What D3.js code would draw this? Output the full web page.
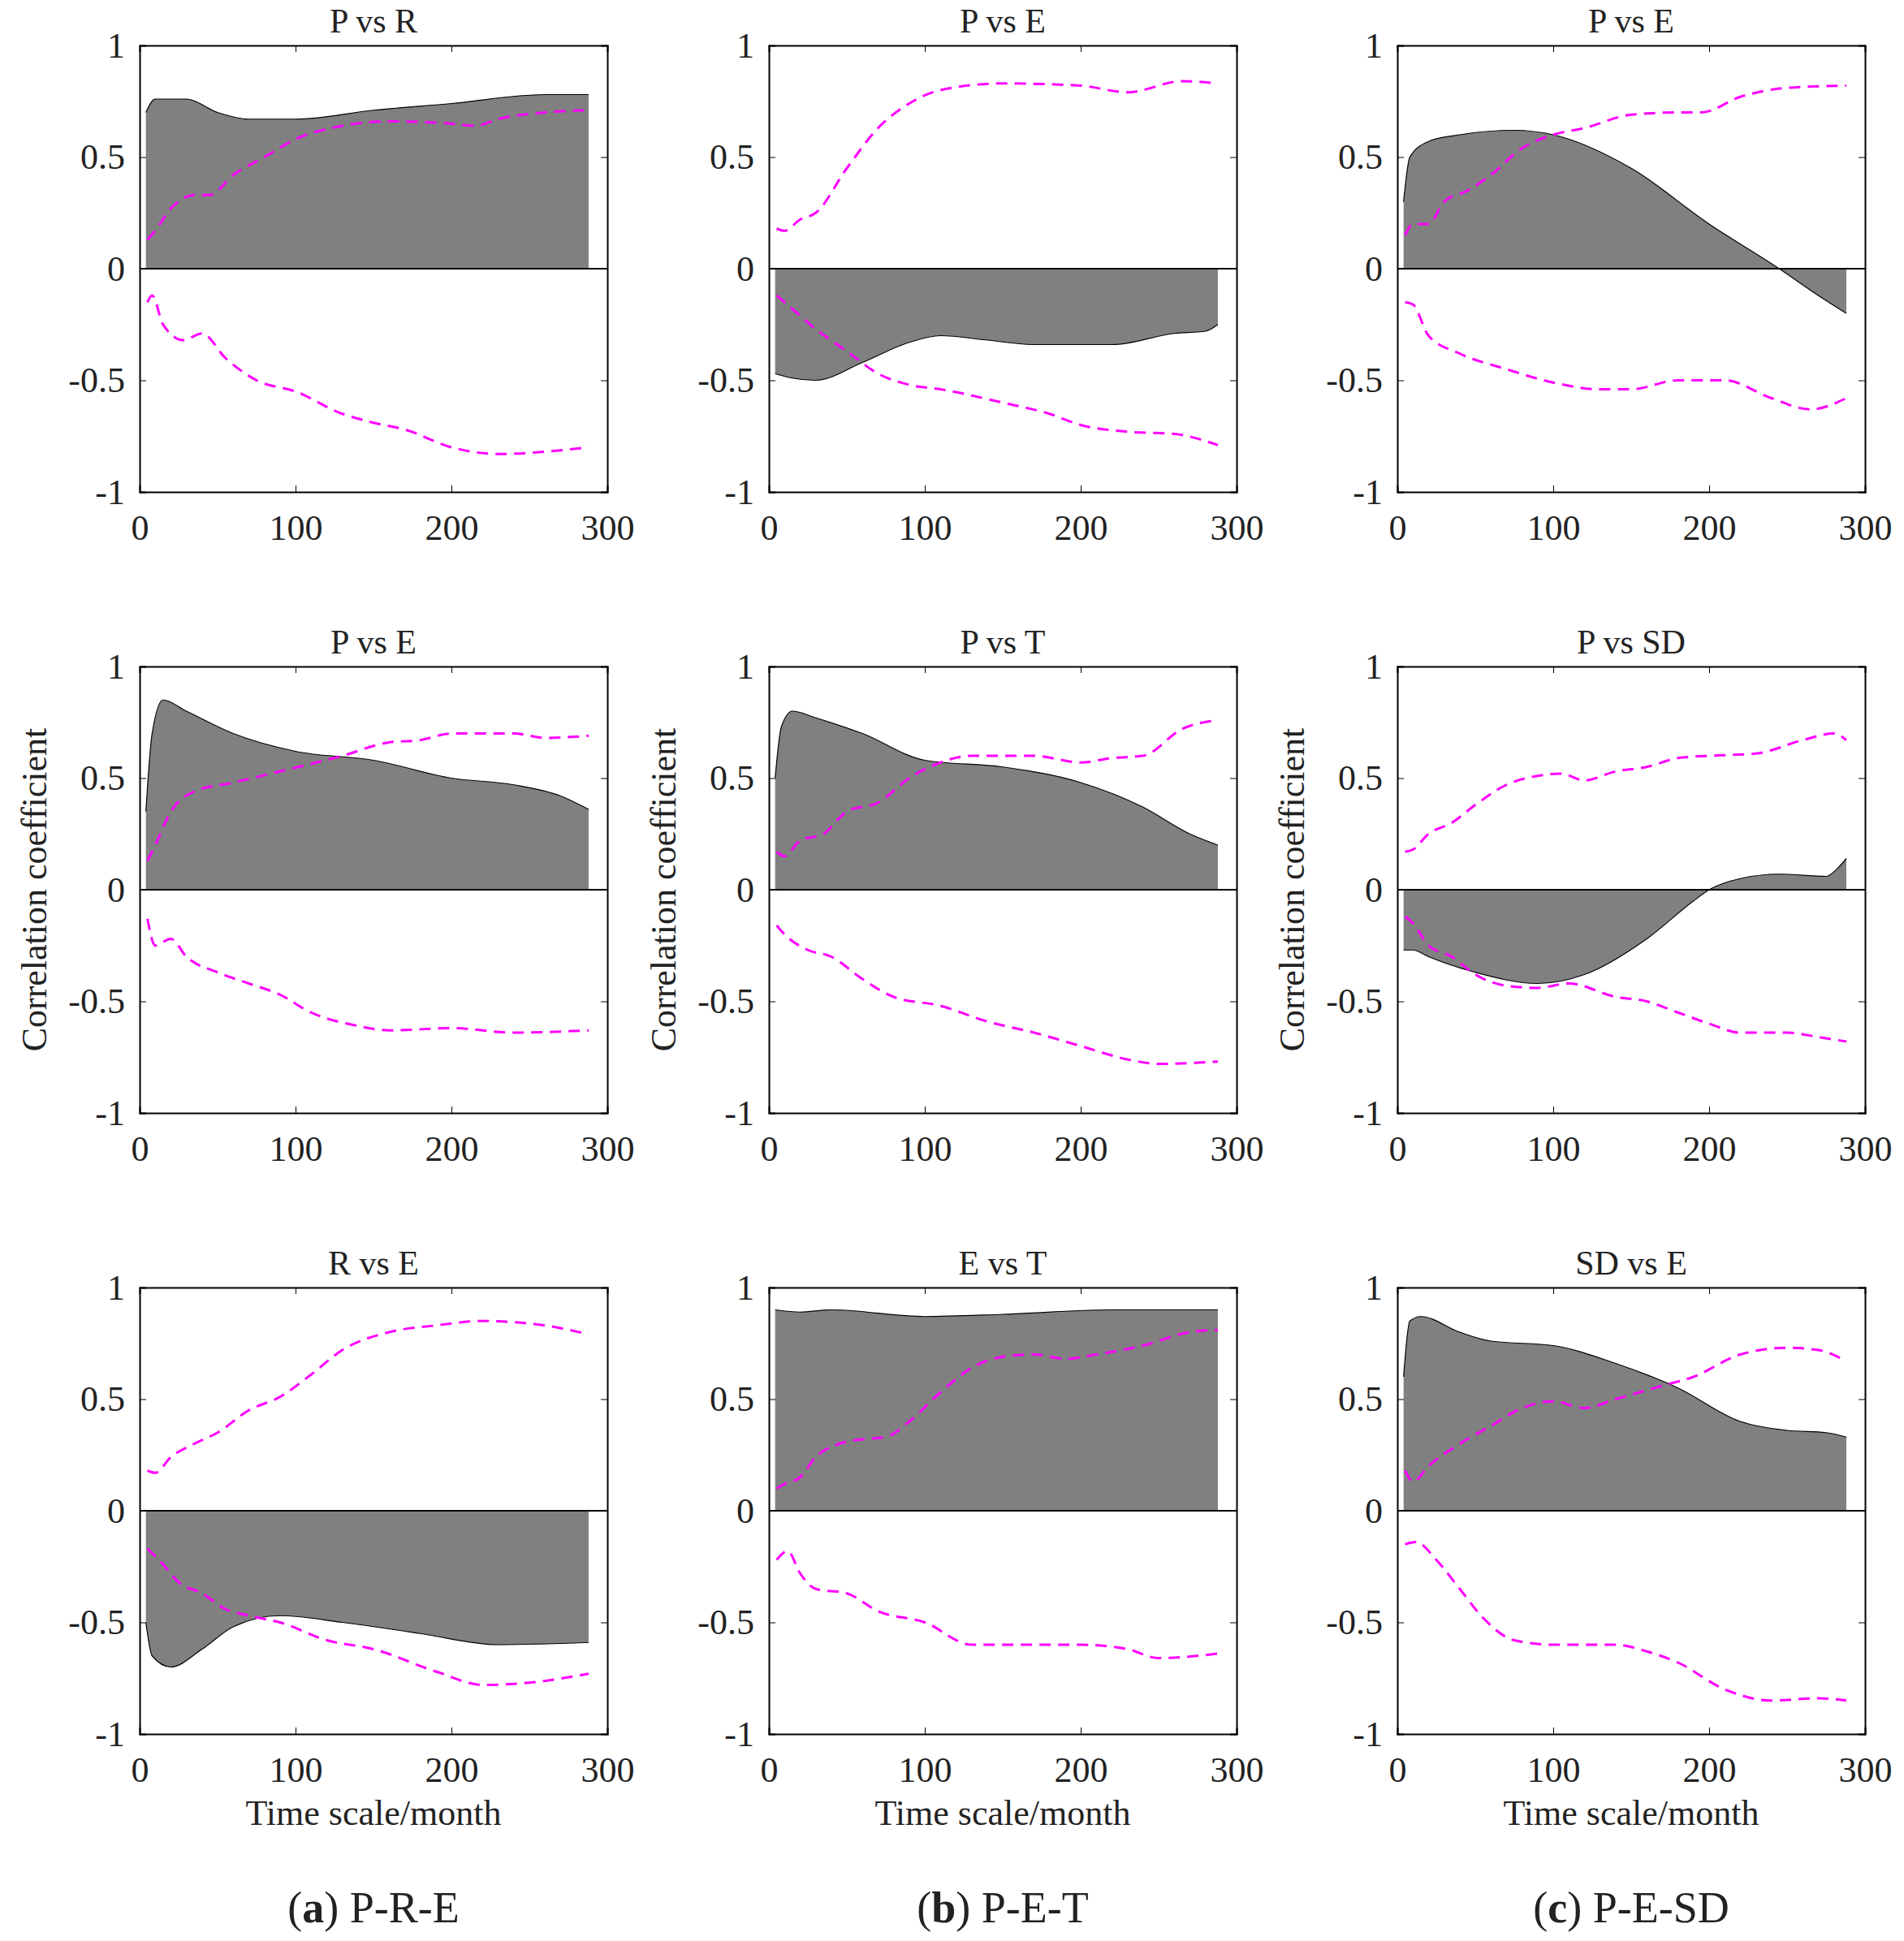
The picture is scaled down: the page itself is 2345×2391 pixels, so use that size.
<!DOCTYPE html>
<html><head><meta charset="utf-8">
<script src="https://cdn.jsdelivr.net/npm/d3@7"></script>
<style>body{margin:0;background:#fff}text{font-family:"Liberation Serif","Times New Roman",serif;fill:#222}</style>
</head><body><div id="chart"></div>
<script>
const panels = [
  {title:"P vs R", fill:[[4,0.7],[10,0.76],[30,0.76],[50,0.7],[70,0.67],[100,0.67],[150,0.71],[200,0.74],[260,0.78],[288,0.78]],
   up:[[5,0.13],[10,0.17],[20,0.27],[35,0.33],[45,0.33],[60,0.42],[80,0.5],[100,0.58],[130,0.64],[160,0.66],[200,0.65],[215,0.64],[230,0.67],[260,0.7],[288,0.71]],
   lo:[[5,-0.15],[8,-0.12],[15,-0.25],[28,-0.32],[40,-0.29],[55,-0.4],[75,-0.5],[100,-0.55],[130,-0.65],[150,-0.69],[170,-0.72],[200,-0.8],[230,-0.83],[260,-0.82],[288,-0.8]]},
  {title:"P vs E", fill:[[4,-0.47],[15,-0.49],[30,-0.5],[60,-0.42],[90,-0.33],[110,-0.3],[140,-0.32],[170,-0.34],[220,-0.34],[260,-0.29],[280,-0.28],[288,-0.25]],
   up:[[5,0.18],[10,0.17],[20,0.22],[30,0.25],[50,0.45],[70,0.63],[90,0.74],[110,0.8],[150,0.83],[200,0.82],[230,0.79],[265,0.84],[288,0.83]],
   lo:[[5,-0.12],[15,-0.18],[30,-0.27],[50,-0.37],[70,-0.47],[90,-0.52],[110,-0.54],[150,-0.6],[180,-0.65],[200,-0.7],[230,-0.73],[260,-0.74],[288,-0.79]]},
  {title:"P vs E", fill:[[4,0.3],[8,0.5],[20,0.57],[40,0.6],[75,0.62],[100,0.6],[150,0.45],[200,0.2],[245,0],[270,-0.12],[288,-0.2]],
   up:[[5,0.15],[10,0.2],[20,0.2],[30,0.3],[45,0.35],[60,0.42],[80,0.54],[100,0.6],[120,0.63],[150,0.69],[180,0.7],[195,0.7],[220,0.77],[250,0.81],[288,0.82]],
   lo:[[5,-0.15],[10,-0.16],[20,-0.3],[40,-0.38],[70,-0.45],[100,-0.51],[130,-0.54],[150,-0.54],[180,-0.5],[210,-0.5],[240,-0.58],[265,-0.63],[288,-0.58]]},
  {title:"P vs E", fill:[[4,0.35],[8,0.7],[15,0.85],[30,0.8],[60,0.7],[100,0.62],[150,0.58],[200,0.5],[240,0.47],[270,0.42],[288,0.36]],
   up:[[5,0.13],[10,0.2],[20,0.35],[35,0.44],[60,0.48],[90,0.53],[130,0.6],[160,0.66],[180,0.67],[200,0.7],[240,0.7],[260,0.68],[288,0.69]],
   lo:[[5,-0.13],[10,-0.25],[20,-0.22],[30,-0.3],[50,-0.37],[70,-0.42],[90,-0.47],[110,-0.55],[140,-0.61],[160,-0.63],[200,-0.62],[240,-0.64],[288,-0.63]]},
  {title:"P vs T", fill:[[4,0.5],[8,0.73],[15,0.8],[30,0.77],[60,0.7],[100,0.58],[150,0.55],[200,0.48],[240,0.37],[270,0.25],[288,0.2]],
   up:[[5,0.17],[10,0.15],[20,0.22],[35,0.25],[50,0.35],[70,0.39],[90,0.5],[110,0.57],[130,0.6],[170,0.6],[200,0.57],[220,0.59],[240,0.6],[265,0.72],[288,0.76]],
   lo:[[5,-0.16],[10,-0.2],[25,-0.27],[40,-0.3],[60,-0.4],[80,-0.48],[110,-0.52],[140,-0.59],[170,-0.64],[200,-0.7],[230,-0.76],[250,-0.78],[288,-0.77]]},
  {title:"P vs SD", fill:[[4,-0.27],[10,-0.27],[20,-0.3],[50,-0.37],[90,-0.42],[120,-0.38],[160,-0.22],[190,-0.05],[200,0],[220,0.05],[245,0.07],[275,0.06],[283,0.1],[288,0.14]],
   up:[[5,0.17],[10,0.18],[20,0.25],[35,0.3],[50,0.38],[70,0.47],[90,0.51],[105,0.52],[120,0.49],[140,0.53],[160,0.55],[180,0.59],[200,0.6],[230,0.61],[260,0.67],[280,0.7],[288,0.67]],
   lo:[[5,-0.12],[10,-0.15],[20,-0.25],[35,-0.3],[50,-0.38],[70,-0.43],[90,-0.44],[110,-0.42],[140,-0.48],[160,-0.5],[180,-0.55],[200,-0.6],[220,-0.64],[250,-0.64],[270,-0.66],[288,-0.68]]},
  {title:"R vs E", fill:[[4,-0.5],[8,-0.65],[20,-0.7],[40,-0.62],[60,-0.52],[90,-0.47],[130,-0.5],[180,-0.55],[230,-0.6],[288,-0.59]],
   up:[[5,0.18],[10,0.17],[20,0.24],[35,0.3],[50,0.35],[70,0.45],[90,0.51],[110,0.61],[130,0.72],[160,0.8],[190,0.83],[220,0.85],[260,0.83],[288,0.79]],
   lo:[[5,-0.17],[15,-0.24],[25,-0.32],[40,-0.37],[55,-0.44],[70,-0.47],[90,-0.5],[120,-0.58],[150,-0.62],[190,-0.72],[220,-0.78],[250,-0.77],[288,-0.73]]},
  {title:"E vs T", fill:[[4,0.9],[20,0.89],[40,0.9],[100,0.87],[150,0.88],[220,0.9],[288,0.9]],
   up:[[5,0.1],[10,0.12],[20,0.15],[30,0.24],[45,0.3],[60,0.32],[75,0.33],[90,0.4],[110,0.53],[130,0.64],[150,0.69],[170,0.7],[190,0.68],[210,0.7],[240,0.74],[270,0.8],[288,0.81]],
   lo:[[5,-0.22],[12,-0.18],[20,-0.28],[30,-0.35],[50,-0.37],[70,-0.45],[100,-0.5],[130,-0.6],[160,-0.6],[200,-0.6],[230,-0.62],[250,-0.66],[288,-0.64]]},
  {title:"SD vs E", fill:[[4,0.6],[8,0.85],[15,0.87],[40,0.8],[60,0.76],[100,0.74],[140,0.66],[180,0.55],[220,0.4],[250,0.36],[275,0.35],[288,0.33]],
   up:[[5,0.18],[10,0.13],[20,0.2],[40,0.3],[60,0.38],[80,0.46],[100,0.49],[120,0.46],[140,0.5],[170,0.56],[190,0.6],[220,0.7],[250,0.73],[270,0.72],[288,0.67]],
   lo:[[5,-0.15],[12,-0.14],[25,-0.22],[40,-0.35],[55,-0.48],[75,-0.58],[100,-0.6],[140,-0.6],[160,-0.63],[180,-0.68],[210,-0.8],[240,-0.85],[270,-0.84],[288,-0.85]]}
];
const W = 2345, H = 2391, pw = 576, ph = 550;
const lefts = [172, 947, 1721], tops = [56, 821, 1586];
const svg = d3.select("#chart").append("svg").attr("width", W).attr("height", H);
const x = d3.scaleLinear().domain([0, 300]).range([0, pw]);
const y = d3.scaleLinear().domain([-1, 1]).range([ph, 0]);
const curve = d3.curveMonotoneX;
const yfmt = d => String(d).replace("\u2212", "-");

panels.forEach((p, i) => {
  const col = i % 3, row = Math.floor(i / 3);
  const g = svg.append("g").attr("transform", `translate(${lefts[col]},${tops[row]})`);
  const area = d3.area().x(d => x(d[0])).y0(y(0)).y1(d => y(d[1])).curve(curve);
  g.append("path").attr("d", area(p.fill)).attr("fill", "#808080");
  g.append("path").attr("d", d3.line().x(d => x(d[0])).y(d => y(d[1])).curve(curve)(p.fill))
    .attr("fill", "none").attr("stroke", "#000").attr("stroke-width", 1.2);
  [p.up, p.lo].forEach(s => g.append("path")
    .attr("d", d3.line().x(d => x(d[0])).y(d => y(d[1])).curve(curve)(s))
    .attr("fill", "none").attr("stroke", "#ff00ff").attr("stroke-width", 3)
    .attr("stroke-dasharray", "14,9"));
  g.append("line").attr("x1", 0).attr("x2", pw).attr("y1", y(0)).attr("y2", y(0))
    .attr("stroke", "#000").attr("stroke-width", 2);
  const ax = [
    d3.axisBottom(x).tickValues([0,100,200,300]).tickSize(-8),
    d3.axisTop(x).tickValues([0,100,200,300]).tickSize(-8).tickFormat(""),
    d3.axisLeft(y).tickValues([-1,-0.5,0,0.5,1]).tickSize(-8).tickFormat(yfmt),
    d3.axisRight(y).tickValues([-1,-0.5,0,0.5,1]).tickSize(-8).tickFormat("")
  ];
  const pos = [`translate(0,${ph})`, "translate(0,0)", "translate(0,0)", `translate(${pw},0)`];
  ax.forEach((a, k) => {
    const ag = g.append("g").attr("transform", pos[k]).call(a);
    ag.select(".domain").attr("stroke-width", 2);
    ag.selectAll("text").style("font-size", "44px").attr("fill", "#222");
    if (k === 0) ag.selectAll("text").attr("y", 28).attr("dy", "0.71em");
    if (k === 2) ag.selectAll("text").attr("x", -18);
  });
  g.append("text").attr("x", pw / 2).attr("y", -16).attr("text-anchor", "middle")
    .style("font-size", "42px").text(p.title);
  if (row === 1) g.append("text").attr("transform", `translate(-115,${ph/2}) rotate(-90)`)
    .attr("text-anchor", "middle").style("font-size", "44px").text("Correlation coefficient");
  if (row === 2) g.append("text").attr("x", pw / 2).attr("y", ph + 112).attr("text-anchor", "middle")
    .style("font-size", "44px").text("Time scale/month");
});

const caps = [["a","P-R-E"],["b","P-E-T"],["c","P-E-SD"]];
caps.forEach((c, k) => {
  const t = svg.append("text").attr("x", lefts[k] + pw / 2).attr("y", 2368)
    .attr("text-anchor", "middle").style("font-size", "54px");
  t.append("tspan").text("(");
  t.append("tspan").attr("font-weight", "bold").text(c[0]);
  t.append("tspan").text(") " + c[1]);
});
</script></body></html>
